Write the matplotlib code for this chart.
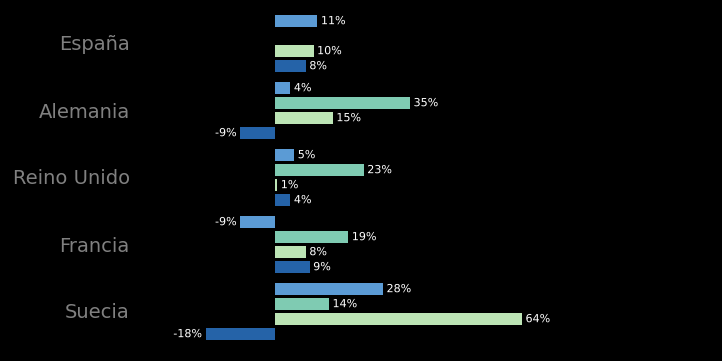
import matplotlib
matplotlib.use("Agg")
import matplotlib.pyplot as plt
import matplotlib.patheffects as pe
import numpy as np

# categories top to bottom
countries = ["España", "Alemania", "Reino Unido", "Francia", "Suecia"]

# four series per country (percent); NaN = no bar
serie_1 = [11, 4, 5, -9, 28]
serie_2 = [np.nan, 35, 23, 19, 14]
serie_3 = [10, 15, 0.6, 8, 64]
serie_4 = [8, -9, 4, 9, -18]

series = [serie_1, serie_2, serie_3, serie_4]
colors = ["#5b9bd5", "#7fcbb2", "#bce4b5", "#2563a8"]

fig = plt.figure(figsize=(7.22, 3.61), dpi=100, facecolor="black")
ax = fig.add_axes([138 / 722, 0, 1 - 138 / 722 - 12 / 722, 1])
ax.set_facecolor("black")

y = np.arange(len(countries))
step = 15 / 67
height = 12 / 67
outline = [pe.withStroke(linewidth=2.2, foreground="black")]

for i, (vals, col) in enumerate(zip(series, colors)):
    pos = y + (i - 1.5) * step + 0.01
    bars = ax.barh(pos, vals, height=height, color=col)
    labels = ax.bar_label(bars, fmt="{:.0f}%", padding=2.5, fontsize=8, color="white")
    for t in labels:
        t.set_path_effects(outline)

# zero at x=275px, 3.86 px per percent
left_px, right_px = 138, 710
ax.set_xlim((left_px - 275) / 3.86, (right_px - 275) / 3.86)
ax.set_ylim(4 + 50 / 67, -43 / 67)

ax.set_yticks(y)
ax.set_yticklabels(countries, fontsize=14, color="#808080")
ax.tick_params(axis="y", length=0, pad=6)
ax.set_xticks([])
for s in ax.spines.values():
    s.set_visible(False)

fig.savefig("out.png", dpi=100, facecolor="black")
